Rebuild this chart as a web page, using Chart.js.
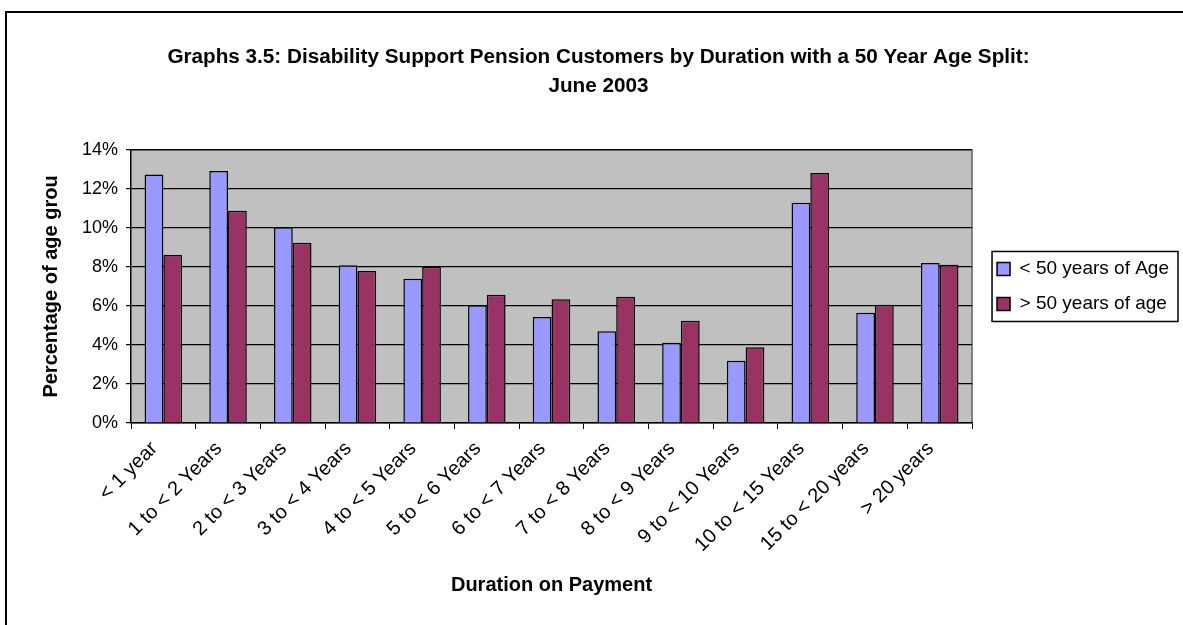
<!DOCTYPE html>
<html>
<head>
<meta charset="utf-8">
<script src="https://cdn.jsdelivr.net/npm/chart.js@4/dist/chart.umd.min.js"></script>
<style>
  body { margin: 0; background: #fff; }
  #wrap { width: 1183px; height: 625px; }
</style>
</head>
<body>
<div id="wrap"><canvas id="barchart" width="1183" height="625"></canvas></div>
<script>
// data
const categories = ['< 1 year', '1 to < 2 Years', '2 to < 3 Years', '3 to < 4 Years', '4 to < 5 Years',
  '5 to < 6 Years', '6 to < 7 Years', '7 to < 8 Years', '8 to < 9 Years', '9 to < 10 Years',
  '10 to < 15 Years', '15 to < 20 years', '> 20 years'];
const under50 = [12.74, 12.92, 10.04, 8.09, 7.39, 6.04, 5.43, 4.71, 4.11, 3.19, 11.29, 5.65, 8.20];
const over50 = [8.62, 10.88, 9.24, 7.80, 8.01, 6.57, 6.35, 6.47, 5.24, 3.89, 12.82, 6.06, 8.11];
const seriesNames = ['< 50 years of Age', '> 50 years of age'];
const yTicks = [0, 2, 4, 6, 8, 10, 12, 14];

const FONT = 'Liberation Sans, Arial, sans-serif';
const LEGEND_GAP = 9; // extra room between plot and legend

// grey plot area, frame and legend box
const decor = {
  id: 'decor',
  beforeLayout(chart) {
    const lg = chart.legend;
    if (lg && !lg._wide) {
      const fit = lg.fit.bind(lg);
      lg.fit = function () { fit(); this.width += LEGEND_GAP; };
      lg._wide = true;
    }
  },
  afterLayout(chart) {
    if (chart.legend) chart.legend.left += LEGEND_GAP;
  },
  beforeDraw(chart) {
    const c = chart.ctx, a = chart.chartArea;
    c.save();
    c.fillStyle = '#C0C0C0';
    c.fillRect(a.left, a.top, a.right - a.left, a.bottom - a.top);
    c.strokeStyle = '#808080';
    c.lineWidth = 2;
    c.beginPath();
    c.moveTo(a.left, a.top);
    c.lineTo(a.right, a.top);
    c.lineTo(a.right, a.bottom);
    c.stroke();
    c.restore();
  },
  afterDraw(chart) {
    const c = chart.ctx;
    c.save();
    c.strokeStyle = '#000';
    c.lineWidth = 2;
    c.beginPath();
    c.moveTo(6, 625);
    c.lineTo(6, 12);
    c.lineTo(1183, 12);
    c.stroke();
    const hb = chart.legend.legendHitBoxes;
    if (hb && hb.length) {
      let l = Infinity, t = Infinity, r = -Infinity, b = -Infinity;
      hb.forEach(h => {
        l = Math.min(l, h.left); t = Math.min(t, h.top);
        r = Math.max(r, h.left + h.width); b = Math.max(b, h.top + h.height);
      });
      c.lineWidth = 1.5;
      c.strokeRect(l - 5, t - 8, r - l + 14, b - t + 16);
    }
    c.restore();
  }
};

new Chart(document.getElementById('barchart'), {
  type: 'bar',
  data: {
    labels: categories,
    datasets: [{
      label: seriesNames[0],
      data: under50,
      backgroundColor: '#9999FF',
      borderColor: '#000',
      borderWidth: 1.5,
      categoryPercentage: 0.58,
      barPercentage: 1.0
    }, {
      label: seriesNames[1],
      data: over50,
      backgroundColor: '#993366',
      borderColor: '#000',
      borderWidth: 1.5,
      categoryPercentage: 0.58,
      barPercentage: 1.0
    }]
  },
  options: {
    responsive: false,
    animation: false,
    layout: { padding: { left: 18, right: 4, top: 0, bottom: 0 } },
    scales: {
      x: {
        grid: { drawOnChartArea: false, color: '#000', tickLength: 6, offset: true },
        border: { color: '#000', width: 1.5 },
        ticks: { color: '#000', font: { family: FONT, size: 20 }, minRotation: 45, maxRotation: 45, autoSkip: false, labelOffset: -9, padding: 8 },
        title: { display: true, text: 'Duration on Payment', color: '#000', font: { family: FONT, size: 20, weight: 'bold' }, padding: { top: 0, bottom: 28 } },
        afterFit(scale) { scale.height = 202; }
      },
      y: {
        min: 0,
        max: 14,
        afterBuildTicks(scale) { scale.ticks = yTicks.map(v => ({ value: v })); },
        grid: { color: '#000', lineWidth: 1.2, tickLength: 5 },
        border: { color: '#000', width: 1.5 },
        ticks: { color: '#000', font: { family: FONT, size: 18 }, padding: 8, callback: v => v + '%' },
        title: { display: true, text: 'Percentage of age grou', color: '#000', font: { family: FONT, size: 20, weight: 'bold' }, padding: { top: 21, bottom: 6 } },
        afterFit(scale) { scale.width = 113; }
      }
    },
    plugins: {
      title: {
        display: true,
        text: ['Graphs 3.5: Disability Support Pension Customers by Duration with a 50 Year Age Split:', 'June 2003'],
        color: '#000',
        font: { family: FONT, size: 20.7, weight: 'bold', lineHeight: 1.4 },
        padding: { top: 42.5, bottom: 49.5 }
      },
      legend: {
        position: 'right',
        fullSize: false,
        labels: { color: '#000', font: { family: FONT, size: 19 }, boxWidth: 13, boxHeight: 13, padding: 16 }
      },
      tooltip: { enabled: false }
    }
  },
  plugins: [decor]
});
</script>
</body>
</html>
